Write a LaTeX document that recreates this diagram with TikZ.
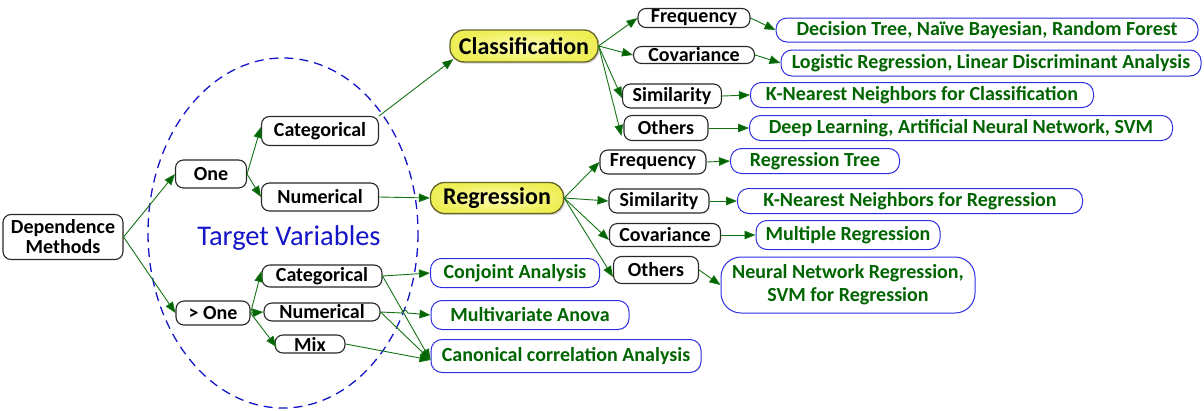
\documentclass[tikz,border=0pt]{standalone}
\usepackage{fontspec}
\setmainfont{Carlito}
\usetikzlibrary{arrows.meta,shadows,calc}
\definecolor{edgegreen}{RGB}{20,115,20}
\definecolor{tipgreen}{RGB}{0,100,0}
\definecolor{leaftext}{RGB}{0,100,0}
\definecolor{leafblue}{RGB}{45,45,225}
\definecolor{boxgray}{RGB}{40,40,40}
\definecolor{ellblue}{RGB}{20,20,200}
\definecolor{yelin}{RGB}{255,255,185}
\definecolor{yelout}{RGB}{238,238,85}
\definecolor{yelborder}{RGB}{100,100,40}
\tikzset{
  catbox/.style={draw=boxgray, line width=1.1pt, rounded corners=8pt, inner sep=0pt, align=center,
    font=\fontsize{20}{20}\selectfont\bfseries, text=black},
  leafbox/.style={draw=leafblue, line width=1pt, rounded corners=11pt, inner sep=0pt, align=center,
    font=\fontsize{20}{23}\selectfont\bfseries, text=leaftext},
  mainbox/.style={draw=yelborder, line width=1.3pt, rounded corners=14pt, inner sep=0pt,
    inner color=yelin, outer color=yelout, drop shadow={shadow xshift=1.5pt, shadow yshift=-1.5pt, opacity=0.35},
    font=\fontsize{24}{25}\selectfont\bfseries, text=black},
  conn/.style={draw=edgegreen, line width=0.9pt, -{Triangle[length=11pt,width=8.5pt,fill=tipgreen]}},
}
\begin{document}
\begin{tikzpicture}[x=1pt,y=-1pt]
\useasboundingbox (0,0) rectangle (1204,410);
% ellipse
\draw[ellblue, line width=1.3pt, dash pattern=on 9pt off 6pt] (283,233) ellipse [x radius=135, y radius=175];
\node[font=\fontsize{28.5}{30}\selectfont, text=ellblue] (tv) at (289,238) {Target Variables};
% left part
\node[catbox, minimum width=120pt, minimum height=45pt] (dm) at (63,237) {Dependence\\Methods};
\node[catbox, minimum width=71pt, minimum height=28pt] (one) at (211,174) {One};
\node[catbox, minimum width=74pt, minimum height=24pt] (gone) at (213,313) {> One};
\node[catbox, minimum width=117pt, minimum height=29pt] (catA) at (320,131) {Categorical};
\node[catbox, minimum width=117pt, minimum height=28pt] (numA) at (320,197) {Numerical};
\node[catbox, minimum width=120pt, minimum height=22pt] (catB) at (322,276) {Categorical};
\node[catbox, minimum width=116pt, minimum height=18pt] (numB) at (322,312) {Numerical};
\node[catbox, minimum width=70pt, minimum height=18pt] (mix) at (310,344) {Mix};
% main nodes
\node[mainbox, minimum width=148pt, minimum height=32pt] (cls) at (524,46) {Classification};
\node[mainbox, minimum width=133pt, minimum height=31pt] (reg) at (497,198) {Regression};
% classification children
\node[catbox, minimum width=112pt, minimum height=19pt] (cf) at (694,18) {Frequency};
\node[catbox, minimum width=121pt, minimum height=17pt] (cc) at (694,55) {Covariance};
\node[catbox, minimum width=99pt, minimum height=24pt] (cs) at (672,96) {Similarity};
\node[catbox, minimum width=84pt, minimum height=25pt] (co) at (666,128) {Others};
\node[leafbox, minimum width=422pt, minimum height=24pt] (l1) at (987,30) {Decision Tree, Naïve Bayesian, Random Forest};
\node[leafbox, minimum width=420pt, minimum height=26pt] (l2) at (991,63) {Logistic Regression, Linear Discriminant Analysis};
\node[leafbox, minimum width=343pt, minimum height=25pt] (l3) at (922,95) {K-Nearest Neighbors for Classification};
\node[leafbox, minimum width=423pt, minimum height=25pt] (l4) at (961,128) {Deep Learning, Artificial Neural Network, SVM};
% regression children
\node[catbox, minimum width=106pt, minimum height=24pt] (rf) at (653,162) {Frequency};
\node[catbox, minimum width=100pt, minimum height=24pt] (rs) at (659,201) {Similarity};
\node[catbox, minimum width=111pt, minimum height=23pt] (rc) at (665,235) {Covariance};
\node[catbox, minimum width=85pt, minimum height=27pt] (ro) at (656,270) {Others};
\node[leafbox, minimum width=169pt, minimum height=25pt] (r1) at (815,161) {Regression Tree};
\node[leafbox, minimum width=345pt, minimum height=25pt] (r2) at (910,201) {K-Nearest Neighbors for Regression};
\node[leafbox, minimum width=184pt, minimum height=29pt] (r3) at (848,235) {Multiple Regression};
\node[leafbox, minimum width=254pt, minimum height=56pt, rounded corners=20pt] (r4) at (848,285) {Neural Network Regression,\\SVM for Regression};
% bottom leaves
\node[leafbox, minimum width=169pt, minimum height=29pt] (b1) at (515,273) {Conjoint Analysis};
\node[leafbox, minimum width=198pt, minimum height=29pt] (b2) at (530,315) {Multivariate Anova};
\node[leafbox, minimum width=270pt, minimum height=33pt] (b3) at (566,356) {Canonical correlation Analysis};
% connectors
\draw[conn] (dm.east) -- (one.west);
\draw[conn] (dm.east) -- (gone.west);
\draw[conn] (one.east) -- ([yshift=4pt]catA.west);
\draw[conn] (one.east) -- (numA.west);
\draw[conn] (catA.north east) -- ([xshift=4pt]cls.190);
\draw[conn] (numA.east) -- (reg.west);
\draw[conn] (gone.east) -- ([yshift=5pt]catB.west);
\draw[conn] (gone.east) -- (numB.west);
\draw[conn] (gone.east) -- ([xshift=2pt,yshift=-3pt]mix.west);
\draw[conn] (catB.east) -- (b1.west);
\draw[conn] (catB.east) -- ([yshift=-4pt]b3.west);
\draw[conn] (numB.east) -- ++(21,1) arc[start angle=180, end angle=360, radius=3] -- (b2.west);
\draw[conn] (numB.east) -- ([yshift=-4pt]b3.west);
\draw[conn] (mix.east) -- ([yshift=-4pt]b3.west);
\draw[conn] (cls.east) -- (cf.west);
\draw[conn] (cls.east) -- (cc.west);
\draw[conn] (cls.east) -- ([yshift=-2pt]cs.west);
\draw[conn] (cls.east) -- ([xshift=-2pt,yshift=-8pt]co.west);
\draw[conn] (cf.east) -- (l1.west);
\draw[conn] (cc.east) -- (l2.west);
\draw[conn] (cs.east) -- (l3.west);
\draw[conn] (co.east) -- (l4.west);
\draw[conn] (reg.east) -- (rf.west);
\draw[conn] (reg.east) -- (rs.west);
\draw[conn] (reg.east) -- ([yshift=-5pt]rc.west);
\draw[conn] (reg.east) -- ([yshift=-7pt]ro.west);
\draw[conn] (rf.east) -- (r1.west);
\draw[conn] (rs.east) -- (r2.west);
\draw[conn] (rc.east) -- (r3.west);
\draw[conn] (ro.east) -- (r4.west);
\end{tikzpicture}
\end{document}
